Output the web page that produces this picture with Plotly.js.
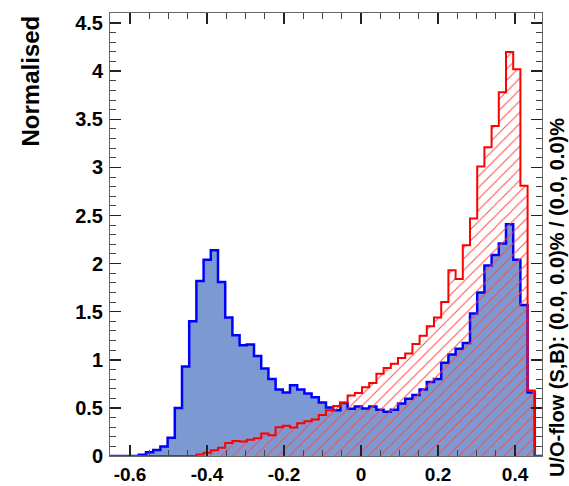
<!DOCTYPE html>
<html>
<head>
<meta charset="utf-8">
<script src="https://cdn.plot.ly/plotly-3.0.1.min.js"></script>
<style>
  html, body { margin: 0; padding: 0; background: #ffffff; }
  #plot { width: 569px; height: 486px; }
</style>
</head>
<body>
<div id="plot"></div>
<script>
// Histogram binning of the variable
const nBins = 60;
const xLow = -0.652;
const xHigh = 0.470;

// Normalised bin contents, signal (blue, filled)
const signal = [
  0, 0, 0, 0, 0.012, 0.04, 0.062, 0.10, 0.19, 0.50,
  0.93, 1.40, 1.82, 2.04, 2.14, 1.81, 1.44, 1.255, 1.15, 1.16,
  1.04, 0.91, 0.80, 0.69, 0.66, 0.735, 0.69, 0.65, 0.61, 0.555,
  0.505, 0.475, 0.55, 0.49, 0.515, 0.495, 0.515, 0.48, 0.46, 0.48,
  0.545, 0.595, 0.635, 0.69, 0.77, 0.80, 0.97, 1.055, 1.115, 1.175,
  1.48, 1.70, 1.98, 2.09, 2.21, 2.41, 2.04, 1.57, 0.66, 0
];

// Normalised bin contents, background (red, hatched)
const background = [
  0, 0, 0, 0, 0, 0, 0, 0, 0, 0,
  0, 0, 0.015, 0.035, 0.06, 0.085, 0.135, 0.155, 0.15, 0.17,
  0.185, 0.235, 0.215, 0.30, 0.315, 0.295, 0.34, 0.36, 0.38, 0.425,
  0.475, 0.52, 0.555, 0.63, 0.655, 0.715, 0.76, 0.855, 0.915, 0.96,
  1.02, 1.065, 1.165, 1.25, 1.35, 1.44, 1.60, 1.93, 1.84, 2.19,
  2.47, 3.01, 3.21, 3.43, 3.78, 4.20, 4.02, 2.81, 0.68, 0
];

// Axis ticks
const xTickVals = [-0.6, -0.4, -0.2, 0, 0.2, 0.4];
const xTickText = ['-0.6', '-0.4', '-0.2', '0', '0.2', '0.4'];
const yTickVals = [0, 0.5, 1, 1.5, 2, 2.5, 3, 3.5, 4, 4.5];
const yTickText = ['0', '0.5', '1', '1.5', '2', '2.5', '3', '3.5', '4', '4.5'];

const yTitle = 'Normalised';
const flowText = 'U/O-flow (S,B): (0.0, 0.0)% / (0.0, 0.0)%';

// Bin edges; a step line with 'hv' shape needs one extra point to close the last bin
const binWidth = (xHigh - xLow) / nBins;
const edges = [];
for (let i = 0; i <= nBins; i++) edges.push(xLow + i * binWidth);
function stepY(values) {
  return values.concat([values[values.length - 1]]);
}

const labelFont = { family: 'Liberation Sans, Arial, Helvetica, sans-serif', size: 19, color: '#000000' };

const traces = [
  {
    type: 'scatter', mode: 'lines',
    x: edges, y: stepY(signal),
    line: { color: '#0000ff', width: 2.5, shape: 'hv' },
    fill: 'tozeroy', fillcolor: '#7d99d1',
    hoverinfo: 'skip'
  },
  {
    type: 'scatter', mode: 'lines',
    x: edges, y: stepY(background),
    line: { color: '#ff0000', width: 2, shape: 'hv' },
    fill: 'tozeroy', fillcolor: 'rgba(0,0,0,0)',
    fillpattern: { shape: '/', fgcolor: '#ff4646', bgcolor: 'rgba(0,0,0,0)', size: 8, solidity: 0.12 },
    hoverinfo: 'skip'
  }
];

const layout = {
  width: 569, height: 486,
  margin: { l: 110, r: 27, t: 13, b: 30 },
  paper_bgcolor: '#ffffff', plot_bgcolor: '#ffffff',
  showlegend: false,
  xaxis: {
    range: [xLow, xHigh],
    tickmode: 'array', tickvals: xTickVals, ticktext: xTickText,
    ticks: 'inside', ticklen: 11, tickwidth: 1.5, tickcolor: '#222222',
    minor: { tick0: 0, dtick: 0.05, ticks: 'inside', ticklen: 6, tickwidth: 1, tickcolor: '#444444' },
    showline: true, linecolor: '#666666', linewidth: 1, mirror: 'allticks',
    showgrid: false, zeroline: false,
    tickfont: labelFont, ticklabelstandoff: 1
  },
  yaxis: {
    range: [0, 4.605],
    tickmode: 'array', tickvals: yTickVals, ticktext: yTickText,
    ticks: 'inside', ticklen: 11, tickwidth: 1.5, tickcolor: '#222222',
    minor: { tick0: 0, dtick: 0.1, ticks: 'inside', ticklen: 6, tickwidth: 1, tickcolor: '#444444' },
    showline: true, linecolor: '#666666', linewidth: 1, mirror: 'allticks',
    showgrid: false, zeroline: false,
    tickfont: { family: labelFont.family, size: 20, color: '#000000' }, ticklabelstandoff: 2
  },
  annotations: [
    {
      text: '<b>' + yTitle + '</b>', textangle: -90,
      xref: 'paper', yref: 'paper', x: -0.185, y: 0.998,
      xanchor: 'center', yanchor: 'top', showarrow: false,
      font: { family: 'Liberation Sans, Arial, sans-serif', size: 24, color: '#000000' }
    },
    {
      text: '<b>' + flowText + '</b>', textangle: -90,
      xref: 'paper', yref: 'paper', x: 1.0335, y: -0.052,
      xanchor: 'center', yanchor: 'bottom', showarrow: false,
      font: { family: 'Liberation Sans, Arial, sans-serif', size: 20, color: '#000000' }
    }
  ]
};

// Bold tick labels
layout.xaxis.ticktext = xTickText.map(t => '<b>' + t + '</b>');
layout.yaxis.ticktext = yTickText.map(t => '<b>' + t + '</b>');

Plotly.newPlot('plot', traces, layout, { staticPlot: true, displayModeBar: false });
</script>
</body>
</html>
